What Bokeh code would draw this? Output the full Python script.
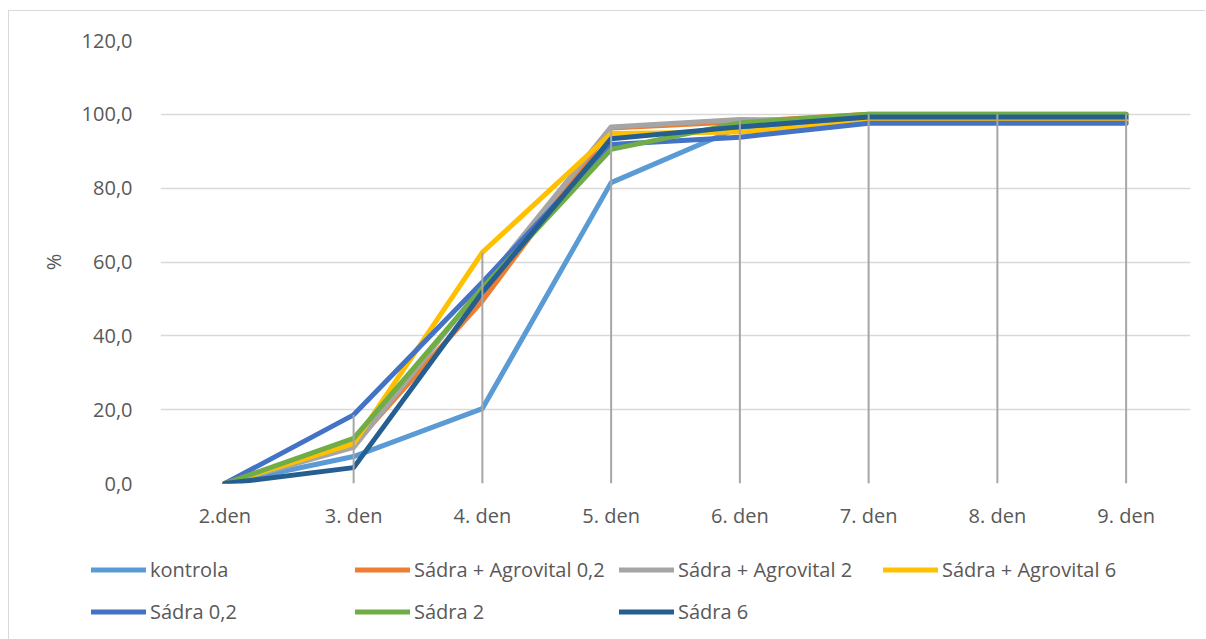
import numpy as np
from bokeh.plotting import figure
from bokeh.layouts import column
from bokeh.models import Legend, LegendItem, FixedTicker, CustomJSTickFormatter
from bokeh.embed import file_html
from bokeh.resources import INLINE

categories = ["2.den", "3. den", "4. den", "5. den", "6. den", "7. den", "8. den", "9. den"]

kontrola = [0, 7.3, 20.3, 81.5, 96.5, 98.8, 98.8, 98.8]
agro_02 = [0, 10.5, 49.5, 96.3, 98.0, 100, 100, 100]
agro_2 = [0, 9.8, 53.5, 96.6, 98.6, 98.4, 98.4, 98.4]
agro_6 = [0, 10.8, 62.6, 94.8, 95.2, 98.0, 98.0, 98.0]
sadra_02 = [0, 18.6, 54.5, 91.8, 93.8, 97.6, 97.6, 97.6]
sadra_2 = [0, 12.2, 53.0, 90.5, 97.7, 100, 100, 100]
sadra_6 = [0, 4.3, 51.8, 93.4, 96.6, 99.3, 99.3, 99.3]

series = [
    ("kontrola", kontrola, "#5B9BD5"),
    ("Sádra + Agrovital 0,2", agro_02, "#ED7D31"),
    ("Sádra + Agrovital 2", agro_2, "#A5A5A5"),
    ("Sádra + Agrovital 6", agro_6, "#FFC000"),
    ("Sádra 0,2", sadra_02, "#4472C4"),
    ("Sádra 2", sadra_2, "#70AD47"),
    ("Sádra 6", sadra_6, "#255E91"),
]

FONT = "Open Sans"
TXT = "#595959"
W = 1196

p = figure(width=W, height=530, x_range=categories, y_range=(0, 120),
           output_backend="svg", toolbar_location=None,
           min_border_left=151, min_border_right=W - 151 - 1030, min_border_top=29,
           min_border_bottom=58)
p.outline_line_color = None
p.background_fill_color = "white"
p.border_fill_color = "white"

for name, vals, col in series:
    p.line(categories, vals, line_color=col, line_width=5,
           line_cap="round", line_join="round")

tops = np.max(np.array([s[1] for s in series]), axis=0)
mask = tops > 0
dx = [c for c, m in zip(categories, mask) if m]
p.segment(x0=dx, y0=[0] * len(dx), x1=dx, y1=list(tops[mask]),
          line_color="#A6A6A6", line_width=2)

p.xgrid.grid_line_color = None
p.ygrid.grid_line_color = "#D9D9D9"
p.ygrid.grid_line_width = 1.3

p.yaxis.ticker = FixedTicker(ticks=[0, 20, 40, 60, 80, 100, 120])
p.yaxis.formatter = CustomJSTickFormatter(code="return tick.toFixed(1).replace('.', ',');")
for ax in (p.xaxis[0], p.yaxis[0]):
    ax.axis_line_color = None
    ax.major_tick_line_color = None
    ax.minor_tick_line_color = None
    ax.major_label_text_font = FONT
    ax.major_label_text_font_size = "20px"
    ax.major_label_text_color = TXT
p.yaxis.major_label_standoff = 22
p.xaxis.major_label_standoff = 12
p.yaxis.axis_label = "%"
p.yaxis.axis_label_text_font = FONT
p.yaxis.axis_label_text_font_size = "20px"
p.yaxis.axis_label_text_font_style = "normal"
p.yaxis.axis_label_text_color = TXT
p.yaxis.axis_label_standoff = 12

# legend strip (separate root so its frame is not aligned with the chart's)
L = figure(width=W, height=98, x_range=(0, 1), y_range=(0, 1),
           output_backend="svg", toolbar_location=None,
           x_axis_type=None, y_axis_type=None,
           min_border_left=0, min_border_right=0, min_border_top=0, min_border_bottom=0)
L.outline_line_color = None
L.xgrid.grid_line_color = None
L.ygrid.grid_line_color = None
L.border_fill_color = "white"

nan = float("nan")
items = []
for name, vals, col in series:
    r = L.line(x=[nan], y=[nan], line_color=col, line_width=5, line_cap="round")
    items.append(LegendItem(label=name, renderers=[r]))

legend = Legend(items=items, orientation="horizontal", ncols=4, location=(82, 9),
                glyph_width=55, glyph_height=37, label_height=37, label_width=200,
                label_standoff=4, spacing=5, padding=0, margin=0,
                border_line_color=None, background_fill_alpha=0,
                label_text_font=FONT, label_text_font_size="20px",
                label_text_color=TXT)
L.add_layout(legend, "center")

top = column(p)
top.styles = {"margin-left": "8px", "margin-top": "10px",
              "border-left": "1px solid #D9D9D9", "border-top": "1px solid #D9D9D9"}
bottom = column(L)
bottom.styles = {"margin-left": "8px", "border-left": "1px solid #D9D9D9"}

open("out.html", "w").write(file_html([top, bottom], INLINE))
